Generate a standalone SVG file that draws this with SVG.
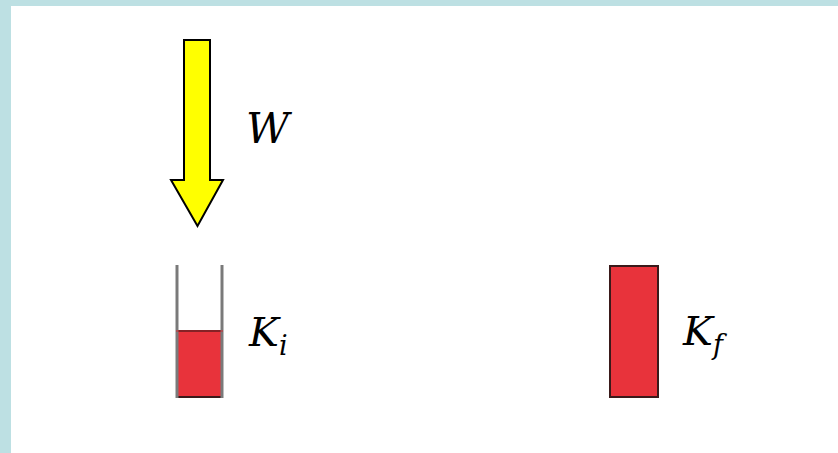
<svg xmlns="http://www.w3.org/2000/svg" width="838" height="453" viewBox="0 0 838 453">
<style>
.red{fill:#e8333b;stroke:#3a1a1a;stroke-width:2}
.wall{stroke:#7a7a7a;stroke-width:3;fill:none}
.lbl{font-family:"DejaVu Serif",serif;font-style:italic;fill:#000}
</style>
<rect x="0" y="0" width="838" height="453" fill="#ffffff"/>
<rect x="0" y="0" width="838" height="6" fill="#bde0e3"/>
<rect x="0" y="0" width="11" height="453" fill="#bde0e3"/>
<g id="work-arrow">
<polygon points="184,40 210,40 210,180 223,180 197.5,226 171,180 184,180" fill="#ffff00" stroke="#000" stroke-width="2" stroke-linejoin="miter"/>
<text class="lbl" x="246" y="143" font-size="42">W</text>
</g>
<g id="initial">
<rect class="red" x="177" y="331" width="45" height="66" stroke="none"/>
<line x1="177" y1="397" x2="222" y2="397" stroke="#3a1a1a" stroke-width="2"/>
<line class="wall" x1="177" y1="265" x2="177" y2="398"/>
<line class="wall" x1="222" y1="265" x2="222" y2="398"/>
<line x1="176" y1="331" x2="223" y2="331" stroke="#d02a32" stroke-width="1"/>
<text class="lbl" x="249" y="346" font-size="40">K<tspan font-size="27" dy="9">i</tspan></text>
</g>
<g id="final">
<rect class="red" x="610" y="266" width="48" height="131"/>
<text class="lbl" x="683" y="345" font-size="40">K<tspan font-size="27" dy="9">f</tspan></text>
</g>
</svg>
